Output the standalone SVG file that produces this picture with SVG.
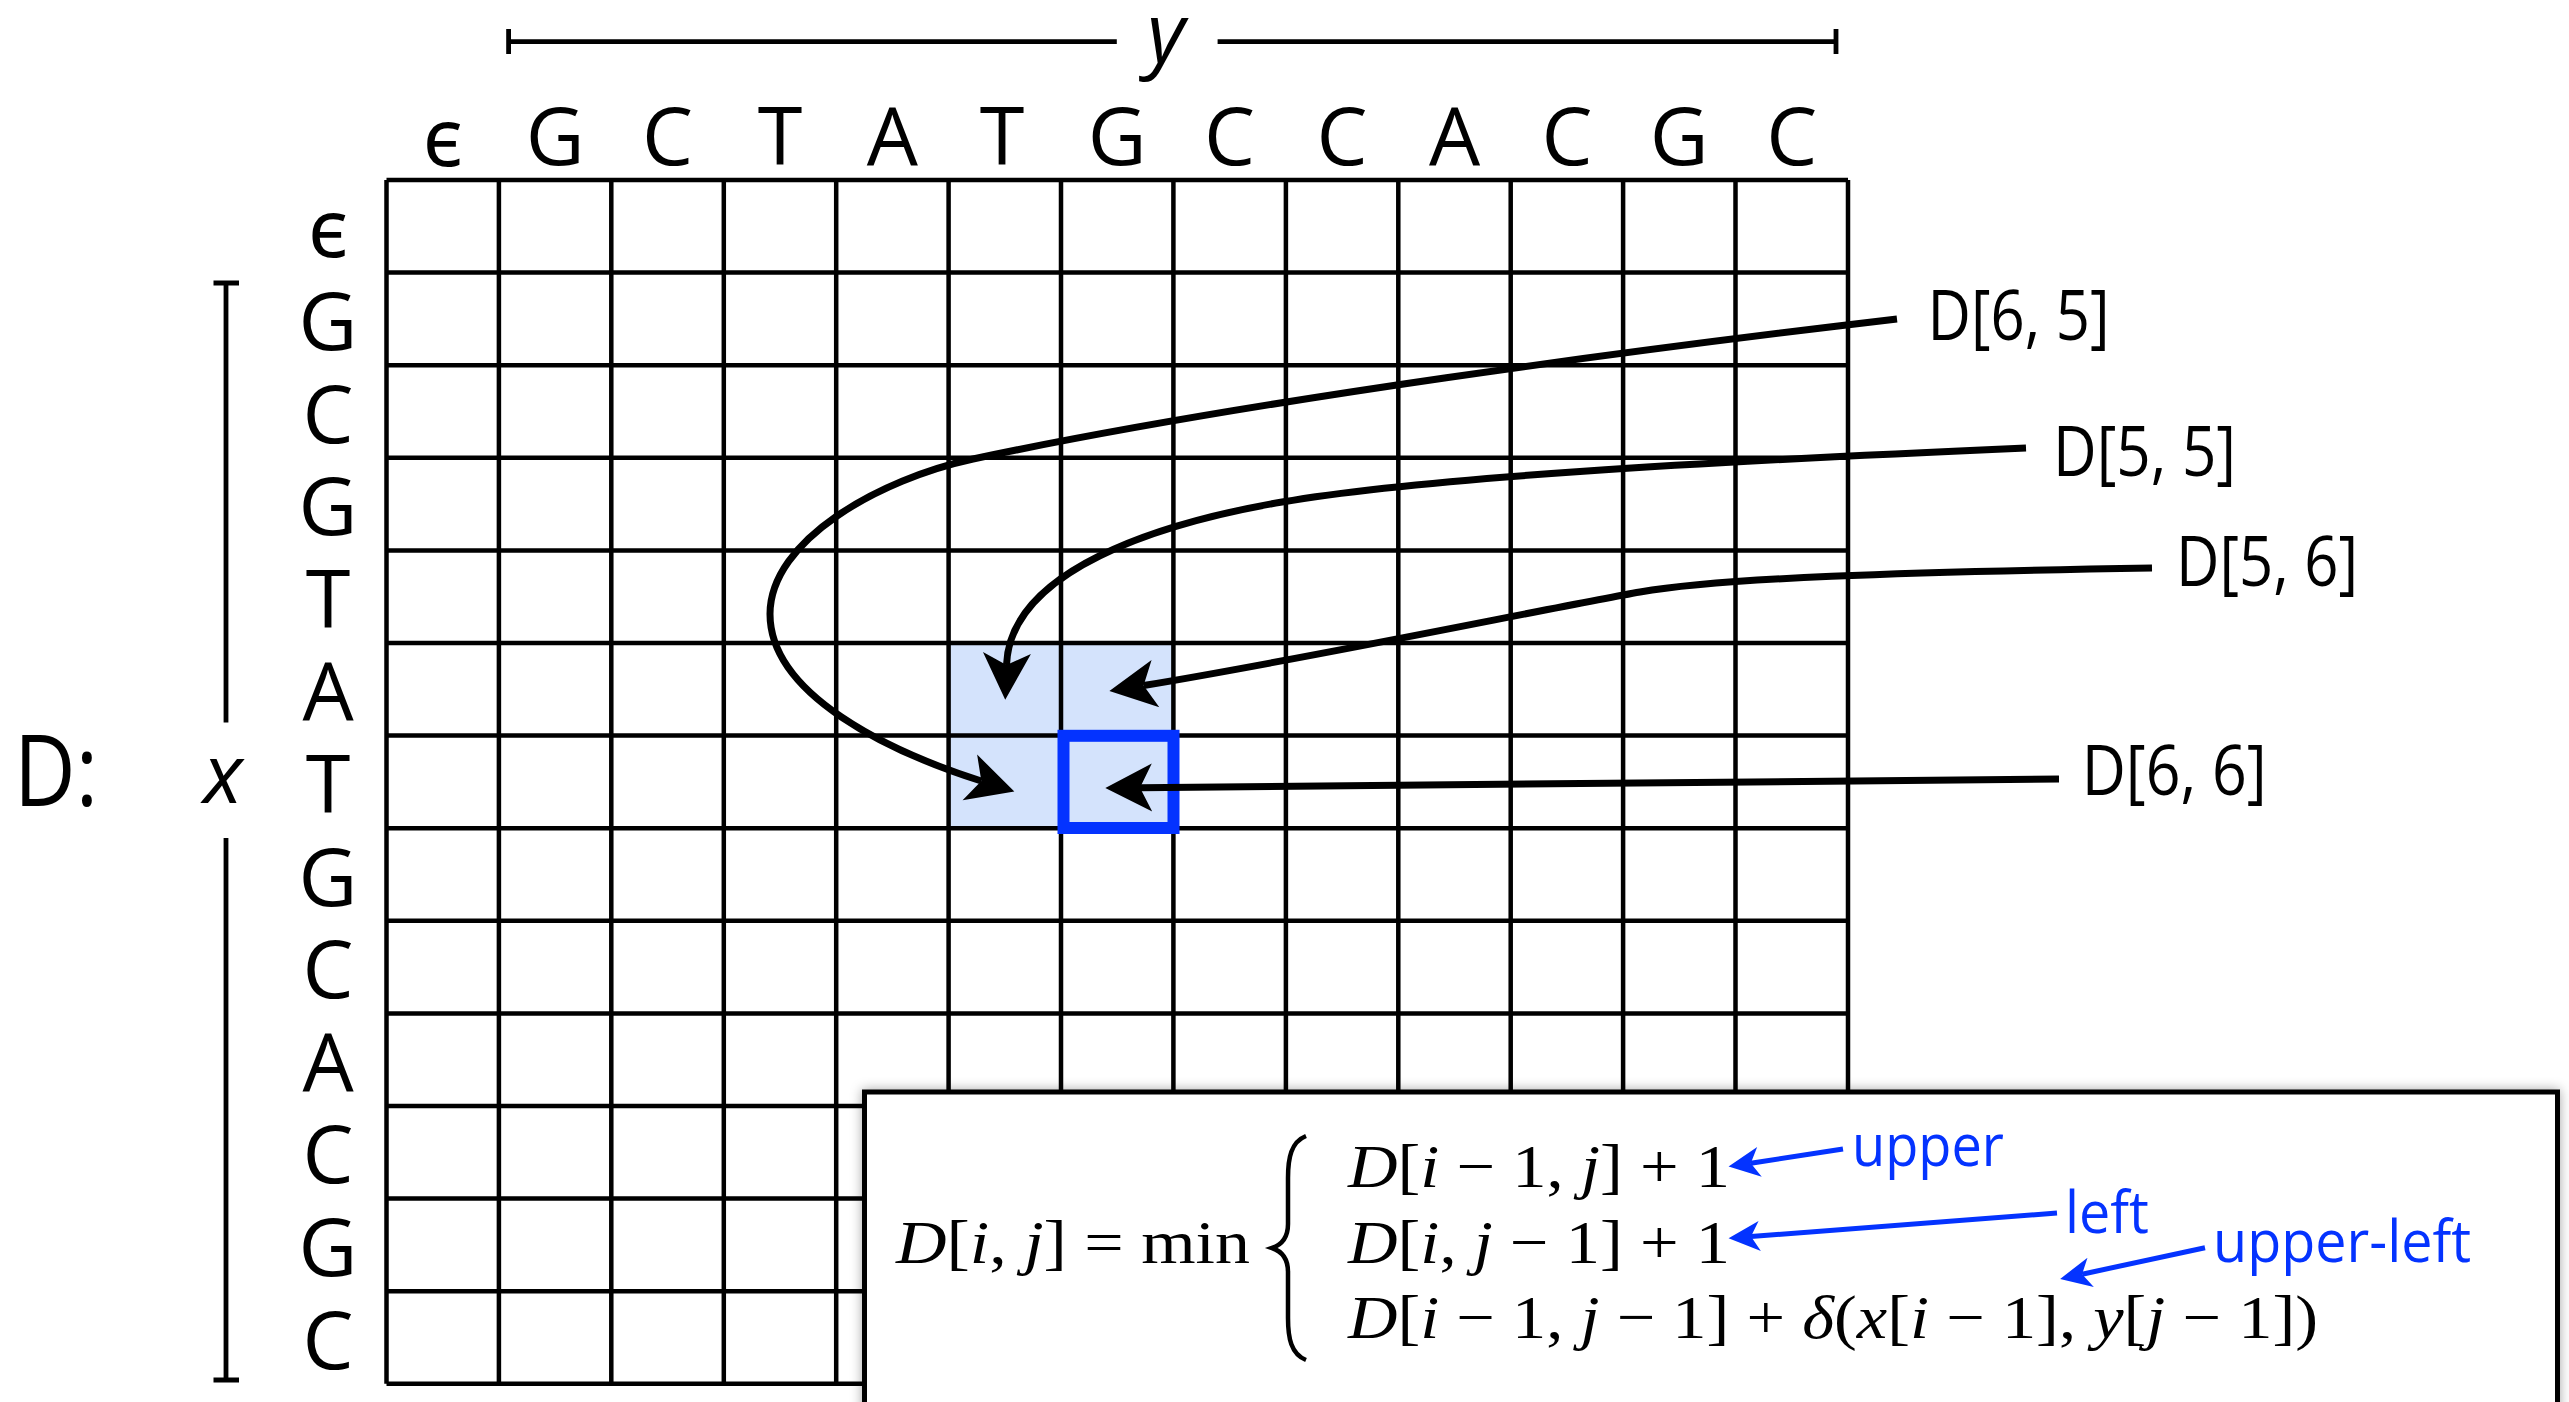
<svg xmlns="http://www.w3.org/2000/svg" width="2569" height="1402" viewBox="0 0 2569 1402">
<style>
.lbl{font-family:"Open Sans","Noto Sans","DejaVu Sans",sans-serif;font-size:81px;fill:#000;text-anchor:middle}
.it{font-family:"Open Sans","Noto Sans","DejaVu Sans",sans-serif;font-style:italic;font-size:82px;fill:#000}
.dl{font-family:"Open Sans","Noto Sans","DejaVu Sans",sans-serif;font-size:70px;fill:#000}
.bl{font-family:"Open Sans","Noto Sans","DejaVu Sans",sans-serif;font-size:58px;fill:#0433FF}
.m{font-family:"Liberation Serif","DejaVu Serif",serif;font-size:62px;fill:#000}
.mi{font-style:italic}
.gl{stroke:#000;stroke-width:4.5;fill:none}
.br{stroke:#000;stroke-width:4.8;fill:none}
.arr{stroke:#000;stroke-width:7;fill:none}
.barr{stroke:#0433FF;stroke-width:5;fill:none}
</style>
<defs>
<marker id="ah" markerUnits="userSpaceOnUse" markerWidth="60" markerHeight="60" viewBox="-15 -20 45 40" refX="0" refY="0" orient="auto" overflow="visible">
<path d="M26,0 L-9,-18 L0,0 L-9,18 Z" fill="#000"/>
</marker>
<marker id="bh" markerUnits="userSpaceOnUse" markerWidth="40" markerHeight="40" viewBox="-10 -14 32 28" refX="0" refY="0" orient="auto" overflow="visible">
<path d="M18,0 L-7,-12 L0,0 L-7,12 Z" fill="#0433FF"/>
</marker>
<filter id="sh" x="-5%" y="-20%" width="110%" height="140%">
<feDropShadow dx="0" dy="0" stdDeviation="6" flood-color="#000" flood-opacity="0.35"/>
</filter>
</defs>
<rect width="2569" height="1402" fill="#fff"/>

<g id="y-bracket">
<path class="br" d="M508.6,41.7 H1116.8 M1217.6,41.7 H1836 M508.6,29 V54 M1836,29 V54"/>
<text class="it" x="1166" y="62" text-anchor="middle">y</text>
</g>

<g id="x-bracket">
<path class="br" d="M226,283 V722.6 M226,838 V1380 M213.5,283 H239 M213.5,1380 H239"/>
<text class="it" x="223" y="803" text-anchor="middle">x</text>
</g>

<g id="matrix-name">
<text class="lbl" x="14" y="806" style="text-anchor:start;font-size:98px" textLength="84" lengthAdjust="spacingAndGlyphs">D:</text>
</g>

<g id="column-headers">
<text class="lbl" x="442.7" y="166">ϵ</text>
<text class="lbl" x="555.1" y="165">G</text>
<text class="lbl" x="667.5" y="165">C</text>
<text class="lbl" x="780" y="165">T</text>
<text class="lbl" x="892.4" y="165">A</text>
<text class="lbl" x="1002" y="165">T</text>
<text class="lbl" x="1117.2" y="165">G</text>
<text class="lbl" x="1229.6" y="165">C</text>
<text class="lbl" x="1342.1" y="165">C</text>
<text class="lbl" x="1454.5" y="165">A</text>
<text class="lbl" x="1566.9" y="165">C</text>
<text class="lbl" x="1679.3" y="165">G</text>
<text class="lbl" x="1791.8" y="165">C</text>
</g>

<g id="row-headers">
<text class="lbl" x="328" y="257">ϵ</text>
<text class="lbl" x="328" y="350">G</text>
<text class="lbl" x="328" y="442.5">C</text>
<text class="lbl" x="328" y="535">G</text>
<text class="lbl" x="328" y="628">T</text>
<text class="lbl" x="328" y="720">A</text>
<text class="lbl" x="328" y="813">T</text>
<text class="lbl" x="328" y="905.5">G</text>
<text class="lbl" x="328" y="998">C</text>
<text class="lbl" x="328" y="1091">A</text>
<text class="lbl" x="328" y="1183">C</text>
<text class="lbl" x="328" y="1276">G</text>
<text class="lbl" x="328" y="1368.5">C</text>
</g>

<g id="grid">
<rect x="948.6" y="643" width="224.8" height="185.2" fill="#D4E3FC"/>
<path class="gl" d="M386.5,180 V1383.8 M498.9,180 V1383.8 M611.3,180 V1383.8 M723.8,180 V1383.8 M836.2,180 V1383.8 M948.6,180 V1383.8 M1061,180 V1383.8 M1173.4,180 V1383.8 M1285.9,180 V1383.8 M1398.3,180 V1383.8 M1510.7,180 V1383.8 M1623.1,180 V1383.8 M1735.5,180 V1383.8 M1848,180 V1383.8"/>
<path class="gl" d="M386.5,180 H1848 M386.5,272.6 H1848 M386.5,365.2 H1848 M386.5,457.8 H1848 M386.5,550.4 H1848 M386.5,643 H1848 M386.5,735.6 H1848 M386.5,828.2 H1848 M386.5,920.8 H1848 M386.5,1013.4 H1848 M386.5,1106 H1848 M386.5,1198.6 H1848 M386.5,1291.2 H1848 M386.5,1383.8 H1848"/>
</g>

<g id="current-cell">
<rect x="1063.5" y="735.8" width="110" height="92.2" fill="none" stroke="#0433FF" stroke-width="12"/>
</g>

<g id="connectors">
<path class="arr" marker-end="url(#ah)" d="M1897,319 C1650,348 1250,400 973,459 C880,479 770,540 770,614 C770,695 890,752 981.3,781"/>
<path class="arr" marker-end="url(#ah)" d="M2026,448 C1700,462 1420,478 1282,502 C1160,523 1010,570 1006.5,665"/>
<path class="arr" marker-end="url(#ah)" d="M2152,568 C1900,572 1720,578 1640,592 C1560,606 1300,660 1143.6,685.5"/>
<path class="arr" marker-end="url(#ah)" d="M2059,779 L1140,787.7"/>
</g>

<g id="cell-labels">
<text class="dl" x="1927.6" y="340" textLength="182" lengthAdjust="spacingAndGlyphs">D[6, 5]</text>
<text class="dl" x="2053" y="476" textLength="183" lengthAdjust="spacingAndGlyphs">D[5, 5]</text>
<text class="dl" x="2176" y="586" textLength="182" lengthAdjust="spacingAndGlyphs">D[5, 6]</text>
<text class="dl" x="2081.7" y="795" textLength="185" lengthAdjust="spacingAndGlyphs">D[6, 6]</text>
</g>

<g id="formula-box">
<rect x="864.5" y="1092" width="1693" height="400" fill="#fff" stroke="#000" stroke-width="5" filter="url(#sh)"/>
<text class="m" x="896" y="1262.7" textLength="354" lengthAdjust="spacingAndGlyphs"><tspan class="mi">D</tspan>[<tspan class="mi">i</tspan>, <tspan class="mi">j</tspan>] = min</text>
<path d="M1306,1136 C1291,1142 1288,1158 1288,1178 L1288,1224 C1288,1239 1281,1245 1272,1248 C1281,1251 1288,1257 1288,1272 L1288,1318 C1288,1338 1291,1354 1306,1360" fill="none" stroke="#000" stroke-width="4.5"/>
<text class="m" x="1348" y="1187.3" textLength="382" lengthAdjust="spacingAndGlyphs"><tspan class="mi">D</tspan>[<tspan class="mi">i</tspan> − 1, <tspan class="mi">j</tspan>] + 1</text>
<text class="m" x="1348" y="1262.7" textLength="382" lengthAdjust="spacingAndGlyphs"><tspan class="mi">D</tspan>[<tspan class="mi">i</tspan>, <tspan class="mi">j</tspan> − 1] + 1</text>
<text class="m" x="1348" y="1337.7" textLength="970" lengthAdjust="spacingAndGlyphs"><tspan class="mi">D</tspan>[<tspan class="mi">i</tspan> − 1, <tspan class="mi">j</tspan> − 1] + <tspan class="mi">δ</tspan>(<tspan class="mi">x</tspan>[<tspan class="mi">i</tspan> − 1], <tspan class="mi">y</tspan>[<tspan class="mi">j</tspan> − 1])</text>
</g>

<g id="annotations">
<path class="barr" marker-end="url(#bh)" d="M1843,1149 L1750.8,1163.2"/>
<path class="barr" marker-end="url(#bh)" d="M2057,1213 L1751,1236.6"/>
<path class="barr" marker-end="url(#bh)" d="M2205,1247.7 L2082.1,1274.2"/>
<text class="bl" x="1852" y="1166" textLength="152" lengthAdjust="spacingAndGlyphs">upper</text>
<text class="bl" x="2065" y="1232.7" textLength="84" lengthAdjust="spacingAndGlyphs">left</text>
<text class="bl" x="2213" y="1261.7" textLength="258" lengthAdjust="spacingAndGlyphs">upper-left</text>
</g>
</svg>
